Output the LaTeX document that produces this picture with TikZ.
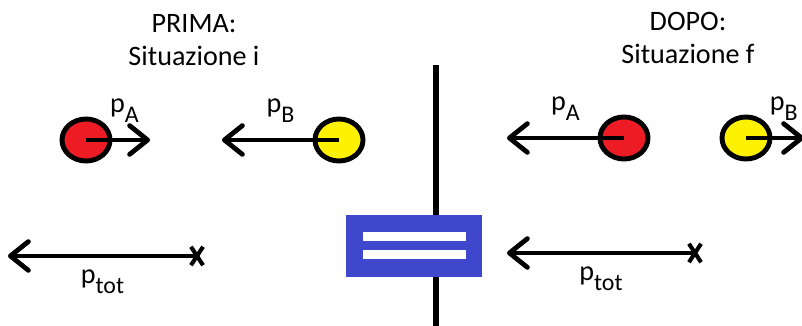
\documentclass[tikz,border=0pt]{standalone}
\usepackage{fontspec}
\setmainfont{Carlito}
\usetikzlibrary{positioning, arrows.meta, shapes.geometric, shapes.misc}
\definecolor{wallblue}{HTML}{3F48CC}
\definecolor{ballred}{HTML}{ED1C24}
\definecolor{ballyellow}{HTML}{FFF200}
\tikzstyle{ball} = [
ellipse,
minimum width=1.2cm,
minimum height=1.05cm,
line width=3.5pt,
draw
]
\tikzstyle{endmark} = [
cross out,
minimum width=0.2cm,
minimum height=0.36cm,
inner sep=0pt,
line width=2.9pt,
draw
]
\tikzstyle{bar} = [
rectangle,
minimum width=2.575cm,
minimum height=0.225cm,
inner sep=0pt,
fill=white
]
\tikzstyle{lab} = [inner sep=1pt]
\tikzstyle{vec}=[line width=3.4pt,-{Straight Barb[length=0.45cm,width=0.72cm,round]}]
\newcommand{\mom}[1]{p\lower7pt\hbox{\fontsize{17}{17}\selectfont #1}}

\begin{document}
\begin{tikzpicture}[x=0.025cm,y=-0.025cm,font=\fontsize{20}{23.5}\selectfont]

        \useasboundingbox (0,0) rectangle (802,326);

        \node (prima) [align=center] at (194,40) {PRIMA:\\Situazione i};

        \node (dopo) [align=center] at (688,38) {DOPO:\\Situazione f};

        \coordinate (wtop) at (436,65);
        \coordinate (wbot) at (436,330);
        \draw [line width=3.6pt] (wtop)--(wbot);

        \node (wall) [rectangle, fill=wallblue, inner sep=0pt,
        minimum width=3.4cm, minimum height=1.55cm] at (414,246) {};
        \node (barup) [bar] at (414.5,236.5) {};
        \node (bardown) [bar] at (414.5,254.5) {};

        \node (redi) [ball, fill=ballred] at (86,140) {};
        \node (yellowi) [ball, fill=ballyellow] at (339,140) {};
        \coordinate (pAi) at (150,140);
        \coordinate (pBi) at (222,140);
        \draw [vec] (redi.center)--node[lab,above=10pt,pos=0.6]{\mom{A}}(pAi);
        \draw [vec] (yellowi.center)--node[lab,above=10pt]{\mom{B}}(pBi);

        \node (toti) [endmark] at (197,256) {};
        \coordinate (ptoti) at (8,256);
        \draw [vec] (toti.center)--node[lab,below=7pt]{\mom{tot}}(ptoti);

        \node (redf) [ball, fill=ballred] at (624,138) {};
        \node (yellowf) [ball, fill=ballyellow] at (746,138) {};
        \coordinate (pAf) at (507,138);
        \coordinate (pBf) at (804,138);
        \draw [vec] (redf.center)--node[lab,above=10pt]{\mom{A}}(pAf);
        \draw [vec] (yellowf.center)--node[lab,above=10pt,pos=0.65]{\mom{B}}(pBf);

        \node (totf) [endmark] at (695,253) {};
        \coordinate (ptotf) at (507,253);
        \draw [vec] (totf.center)--node[lab,below=7pt]{\mom{tot}}(ptotf);

\end{tikzpicture}
\end{document}
